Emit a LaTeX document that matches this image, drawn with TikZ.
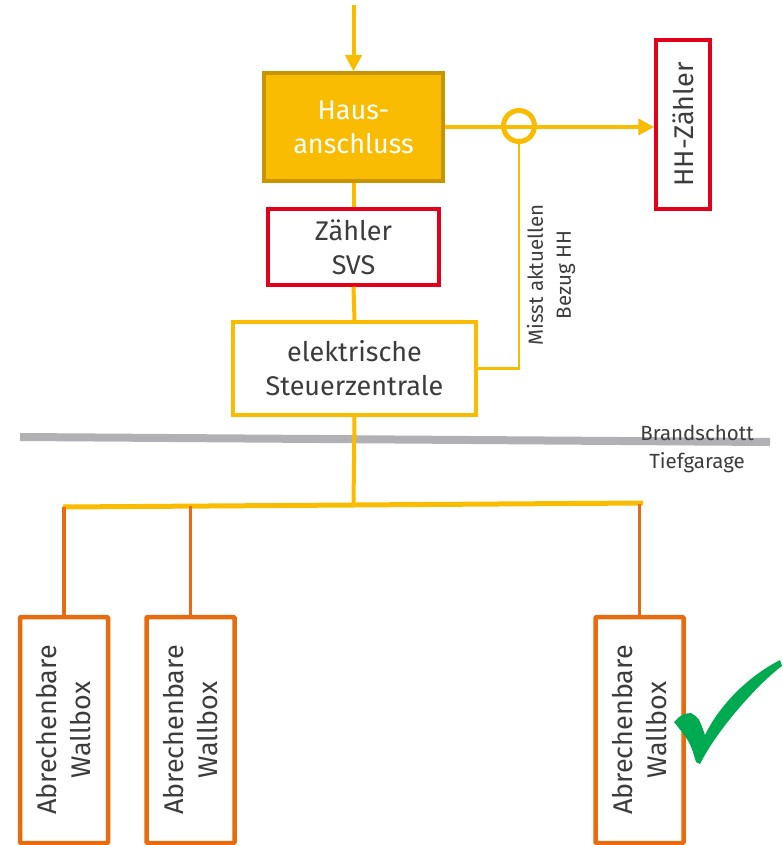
\documentclass[tikz,border=0pt]{standalone}
\usepackage{fontspec}
\setmainfont{Fira Sans}
\definecolor{hausYellow}{RGB}{249,188,0}
\definecolor{hausDark}{RGB}{200,148,0}
\definecolor{zaehlerRed}{RGB}{227,0,27}
\definecolor{wallOrange}{RGB}{232,107,16}
\definecolor{checkGreen}{RGB}{0,170,80}
\definecolor{schottGray}{RGB}{177,176,181}
\definecolor{textGray}{RGB}{60,60,60}
\usetikzlibrary{arrows.meta,positioning,calc}

\begin{document}
\begin{tikzpicture}[
    x=1pt, y=-1pt,
    box/.style={draw, line width=3.5pt, align=center, text=textGray,
                font=\fontsize{27}{34}\selectfont, inner sep=0pt},
    zaehler/.style={box, draw=zaehlerRed},
    wallbox/.style={box, draw=wallOrange, line width=4.5pt, rounded corners=1pt,
                    rotate=90, minimum width=226pt, minimum height=88pt},
    feed/.style={draw=hausYellow, line width=4pt},
    drop/.style={draw=wallOrange, line width=3.5pt},
    note/.style={align=center, text=textGray, font=\fontsize{20.5}{28}\selectfont}
  ]
  \useasboundingbox (0,0) rectangle (782,845);

  % house connection
  \coordinate (in) at (353.5,5);
  \node[box, fill=hausYellow, draw=hausDark, text=white, minimum width=179pt,
        minimum height=108pt] (haus) at (353.5,127) {Haus-\\anschluss};
  \node[zaehler, rotate=90, minimum width=169pt, minimum height=54pt]
    (hh) at (683,124.5) {HH-Zähler};
  \node[zaehler, minimum width=171pt, minimum height=76pt]
    (svs) at (353.5,247) {Zähler\\SVS};
  \node[box, draw=hausYellow, minimum width=243pt, minimum height=93pt]
    (steuer) at (354.5,368.5) {elektrische\\Steuerzentrale};

  \draw[feed, -{Triangle[length=16pt,width=16pt]}] (in) -- (haus.north);
  \draw[feed, -{Triangle[length=16pt,width=16pt]}] (haus.east) -- (haus.east -| hh.north);
  \node[circle, draw=hausYellow, line width=5pt, minimum size=31pt, inner sep=0pt]
    (meter) at (519,126) {};
  \draw[draw=hausYellow, line width=2.5pt] (meter.south) |- (steuer.east);
  \node[note, rotate=90] (misst) at (551,275) {Misst aktuellen\\Bezug HH};

  \draw[feed] (haus.south) -- (svs.north);
  \draw[feed] (svs.south) -- (steuer.north);

  % fire wall
  \draw[schottGray, line width=8pt] (20,437) -- (770,442);
  \node[note] (schott) at (697,449) {Brandschott\\Tiefgarage};

  % distribution to wallboxes
  \coordinate (bus) at (353.5,505);
  \coordinate (busL) at (63,507);
  \coordinate (busR) at (643,503);
  \draw[feed] (steuer.south) -- (bus);
  \draw[feed, line width=5pt] (busL) -- (busR);

  \node[wallbox] (wb1) at (64,730) {Abrechenbare\\Wallbox};
  \node[wallbox] (wb2) at (190.5,730) {Abrechenbare\\Wallbox};
  \node[wallbox] (wb3) at (639.5,730) {Abrechenbare\\Wallbox};

  \coordinate (j1) at (64,507);
  \coordinate (j2) at (190.5,506);
  \coordinate (j3) at (639.5,504);
  \draw[drop] (j1) -- (wb1.east);
  \draw[drop] (j2) -- (wb2.east);
  \draw[drop] (j3) -- (wb3.east);

  % check mark
  \fill[checkGreen] (674,722) .. controls (682,714) .. (691,713)
    .. controls (699,718) .. (705,735) .. controls (718,708) and (745,678) .. (780,660)
    -- (782,666) .. controls (760,682) and (718,728) .. (700,764) -- (696,762)
    .. controls (690,742) .. (674,722) -- cycle;
\end{tikzpicture}
\end{document}
